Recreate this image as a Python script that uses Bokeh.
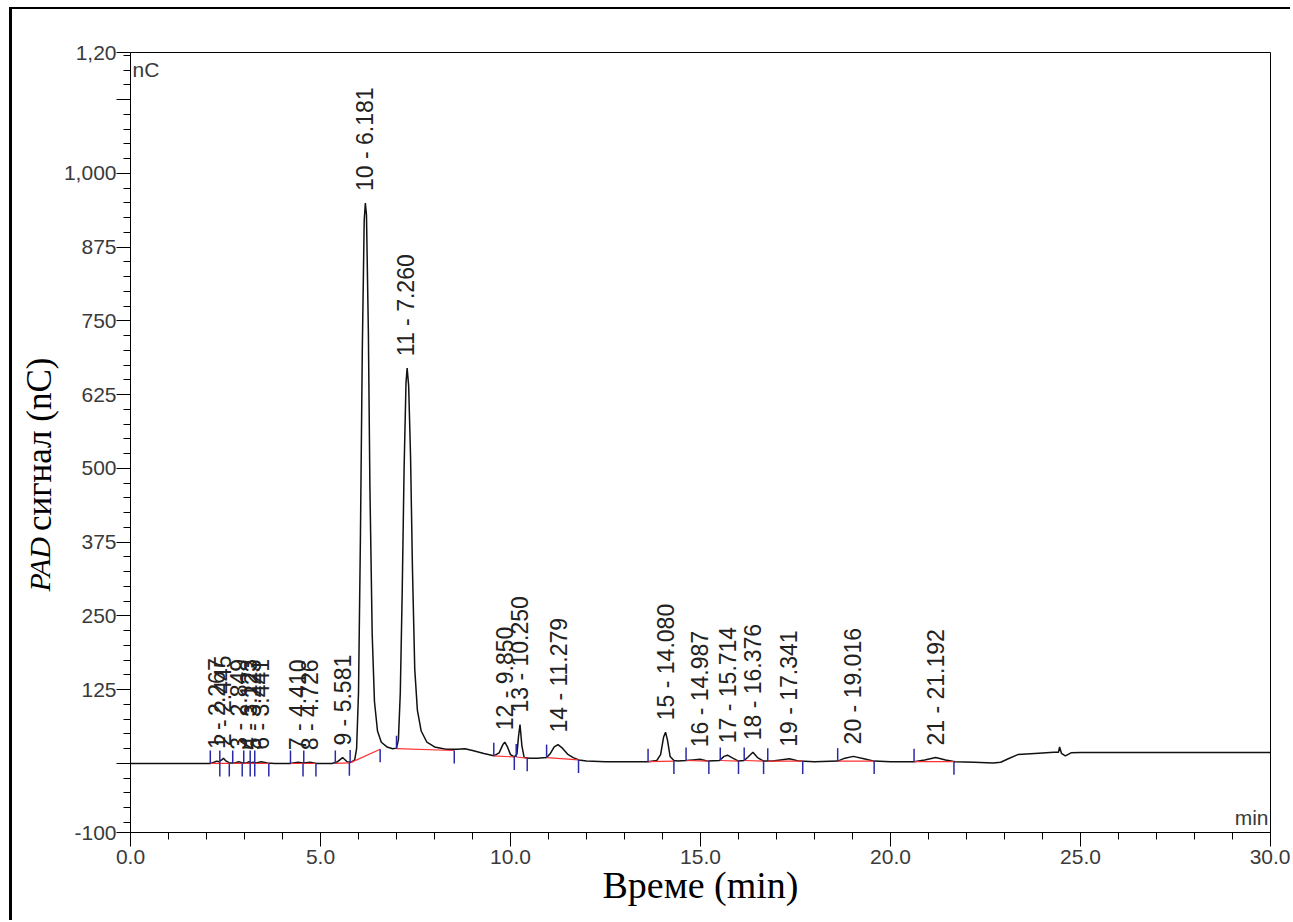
import math
from bokeh.plotting import figure
from bokeh.layouts import row
from bokeh.models import Range1d, FixedTicker, ColumnDataSource, Label, NumeralTickFormatter
from bokeh.core.properties import value
from bokeh.embed import file_html
from bokeh.resources import INLINE

# ---------------- data ----------------
trace_time = [
    0.00, 1.00, 2.00, 2.10, 2.20, 2.267, 2.33, 2.40, 2.445, 2.50,
    2.60, 2.75, 2.849, 2.95, 3.05, 3.123, 3.17, 3.223, 3.30, 3.441,
    3.60, 3.80, 4.20, 4.41, 4.55, 4.726, 4.90, 5.30, 5.45, 5.581,
    5.70, 5.80, 5.90, 5.95, 6.00, 6.05, 6.10, 6.15, 6.18, 6.21,
    6.26, 6.30, 6.36, 6.42, 6.50, 6.60, 6.75, 6.90, 7.00, 7.05,
    7.10, 7.15, 7.20, 7.25, 7.28, 7.32, 7.37, 7.42, 7.48, 7.55,
    7.65, 7.80, 8.00, 8.30, 8.60, 8.80, 9.00, 9.30, 9.56, 9.70,
    9.80, 9.85, 9.92, 10.00, 10.10, 10.17, 10.21, 10.25, 10.30, 10.36,
    10.50, 10.70, 10.95, 11.05, 11.15, 11.25, 11.35, 11.50, 11.65, 11.80,
    12.00, 12.50, 13.00, 13.62, 13.85, 13.95, 14.03, 14.08, 14.13, 14.20,
    14.30, 14.40, 14.62, 14.80, 14.99, 15.20, 15.50, 15.62, 15.71, 15.85,
    16.00, 16.15, 16.25, 16.38, 16.50, 16.66, 16.90, 17.10, 17.34, 17.60,
    18.00, 18.61, 18.80, 19.02, 19.30, 19.57, 20.00, 20.62, 20.90, 21.19,
    21.45, 21.70, 22.20, 22.70, 22.90, 23.10, 23.35, 23.80, 24.30, 24.42,
    24.45, 24.50, 24.60, 24.75, 25.00, 27.00, 30.00,
]
trace_signal = [
    0.0, 0.0, 0.0, 0.0, 2.0, 4.0, 3.0, 6.0, 9.0, 5.0,
    1.0, 1.0, 3.0, 1.0, 1.0, 3.0, 1.0, 2.0, 1.0, 3.0,
    1.0, 0.0, 0.0, 2.0, 1.0, 2.0, 0.0, 0.0, 3.0, 10.0,
    3.0, 2.0, 6.0, 25.0, 120.0, 380.0, 700.0, 920.0, 950.0, 930.0,
    730.0, 470.0, 220.0, 105.0, 55.0, 36.0, 28.0, 25.0, 26.0, 40.0,
    120.0, 290.0, 500.0, 645.0, 670.0, 640.0, 520.0, 330.0, 160.0, 90.0,
    55.0, 36.0, 28.0, 24.0, 24.0, 25.0, 22.0, 17.0, 13.0, 18.0,
    32.0, 36.0, 28.0, 15.0, 11.0, 16.0, 45.0, 66.0, 30.0, 10.0,
    9.0, 9.0, 10.0, 17.0, 28.0, 32.0, 27.0, 16.0, 10.0, 6.0,
    4.0, 3.0, 3.0, 3.0, 5.0, 15.0, 45.0, 53.0, 40.0, 12.0,
    5.0, 4.0, 5.0, 6.0, 7.0, 4.0, 5.0, 12.0, 14.0, 9.0,
    4.0, 5.0, 11.0, 19.0, 10.0, 4.0, 4.0, 6.0, 8.0, 4.0,
    3.0, 4.0, 9.0, 12.0, 8.0, 4.0, 3.0, 3.0, 6.0, 10.0,
    6.0, 3.0, 2.0, 1.0, 2.0, 8.0, 15.0, 17.0, 19.0, 19.0,
    28.0, 17.0, 13.0, 18.0, 18.6, 18.6, 18.6,
]

peak_number = list(range(1, 22))
peak_rt = [2.267, 2.445, 2.849, 3.123, 3.223, 3.441, 4.410, 4.726, 5.581, 6.181,
           7.260, 9.850, 10.250, 11.279, 14.080, 14.987, 15.714, 16.376, 17.341,
           19.016, 21.192]
peak_height = [4, 9, 3, 3, 2, 3, 2, 2, 10, 950, 670, 36, 66, 32, 53, 7, 14, 19, 8, 12, 10]

peak_start = [2.10, 2.35, 2.69, 2.98, 3.15, 3.27, 4.21, 4.56, 5.39, 5.78, 7.00,
              9.56, 10.15, 10.95, 13.62, 14.62, 15.52, 16.15, 16.77, 18.61, 20.62]
peak_end = [2.35, 2.60, 2.94, 3.15, 3.27, 3.64, 4.54, 4.88, 5.76, 6.57, 8.52,
            10.10, 10.44, 11.79, 14.30, 15.22, 16.00, 16.66, 17.69, 19.57, 21.67]
base_start = [0, 0, 0, 0, 0, 0, 0, 0, 0, 1, 25, 13, 11, 10, 3, 5, 5, 5, 4, 4, 3]
base_end = [0, 0, 0, 0, 0, 0, 0, 0, 1, 24, 22, 11, 9, 6, 4, 4, 4, 4, 4, 4, 3]

x_major = [0, 5, 10, 15, 20, 25, 30]
x_minor = list(range(0, 31))
y_min, y_max = -117, 1205
y_major = [y_min, 0, 125, 250, 375, 500, 625, 750, 875, 1000, 1125, y_max]
y_labels = ["-100", "", "125", "250", "375", "500", "625", "750", "875", "1,000", "", "1,20"]
y_minor = list(range(-100, 1201, 25))

y_title_italic = "PAD"
y_title_rest = "сигнал (nC)"
x_title = "Време (min)"

# ---------------- y-axis title strip (separate narrow figure) ----------------
TITLE_W, H = 48, 911
tfig = figure(width=TITLE_W, height=H, output_backend="svg", toolbar_location=None,
              x_range=Range1d(0, TITLE_W), y_range=Range1d(H, 0),
              min_border_left=0, min_border_right=0, min_border_top=0,
              min_border_bottom=0, x_axis_type=None, y_axis_type=None)
tfig.outline_line_color = None
tfig.background_fill_color = "white"
tfig.border_fill_color = "white"
tfig.text(x=[27], y=[559], text=[y_title_rest], angle=math.pi / 2, text_align="left",
          text_baseline="middle", text_font=value("Liberation Serif"),
          text_font_size="35px", text_color="black")
tfig.text(x=[27], y=[566], text=[y_title_italic], angle=math.pi / 2, text_align="right",
          text_baseline="middle", text_font=value("Liberation Serif"),
          text_font_style="italic", text_font_size="30px", text_color="black")

# ---------------- main figure ----------------
p = figure(width=1278 - TITLE_W, height=H, output_backend="svg", toolbar_location=None,
           x_range=Range1d(0, 30), y_range=Range1d(y_min, y_max),
           min_border_left=67, min_border_right=20, min_border_top=43,
           min_border_bottom=88)
p.grid.visible = False
p.outline_line_color = "black"
p.outline_line_width = 1
p.background_fill_color = "white"
p.border_fill_color = "white"

tick_font = "Liberation Sans"
for ax in (p.xaxis[0], p.yaxis[0]):
    ax.axis_line_color = "black"
    ax.major_tick_line_color = "black"
    ax.minor_tick_line_color = "black"
    ax.major_tick_in = 0
    ax.minor_tick_in = 0
    ax.major_tick_out = 14
    ax.minor_tick_out = 7
    ax.major_label_text_font = tick_font
    ax.major_label_text_font_size = "21px"
    ax.major_label_text_color = "#3a3a3a"

p.xaxis.ticker = FixedTicker(ticks=x_major, minor_ticks=x_minor)
p.xaxis.formatter = NumeralTickFormatter(format="0.0")
p.xaxis.major_label_standoff = 3
p.xaxis.axis_label = x_title
p.xaxis.axis_label_text_font = "Liberation Serif"
p.xaxis.axis_label_text_font_style = "normal"
p.xaxis.axis_label_text_color = "black"
p.xaxis.axis_label_text_font_size = "38px"
p.xaxis.axis_label_standoff = -3

p.yaxis.ticker = FixedTicker(ticks=y_major, minor_ticks=y_minor)
p.yaxis.major_label_overrides = {t: l for t, l in zip(y_major, y_labels)}
p.yaxis.major_label_standoff = 0

# trace
p.line(trace_time, trace_signal, line_color="#111111", line_width=1.5)

# baselines and delimiters
seg = ColumnDataSource(dict(x0=peak_start, y0=base_start, x1=peak_end, y1=base_end))
p.segment("x0", "y0", "x1", "y1", source=seg, line_color="#ff3030", line_width=1.2)
tick_len = 22
p.segment(peak_start, base_start, peak_start, [b + tick_len for b in base_start],
          line_color="#2a2aa8", line_width=1.5)
p.segment(peak_end, base_end, peak_end, [b - tick_len for b in base_end],
          line_color="#2a2aa8", line_width=1.5)

# peak labels
lab = ColumnDataSource(dict(x=peak_rt, y=peak_height,
                            text=[f"{n} - {rt:.3f}" for n, rt in zip(peak_number, peak_rt)]))
p.text("x", "y", "text", source=lab, angle=math.pi / 2, text_align="left",
       text_baseline="middle", y_offset=-12, text_font=value(tick_font),
       text_font_size="23px", text_color="#222222")

p.add_layout(Label(x=0, y=y_max, text="nC", x_offset=2, y_offset=-5, text_baseline="top",
                   text_font=tick_font, text_font_size="21px", text_color="#3a3a3a"))
p.add_layout(Label(x=30, y=y_min, text="min", x_offset=-2, y_offset=4, text_align="right",
                   text_baseline="bottom", text_font=tick_font, text_font_size="21px",
                   text_color="#3a3a3a"))

layout = row(tfig, p, styles={"margin-left": "9px", "margin-top": "7px",
                              "border-left": "3px solid black",
                              "border-top": "2px solid black"})

open("out.html", "w").write(file_html(layout, INLINE))
